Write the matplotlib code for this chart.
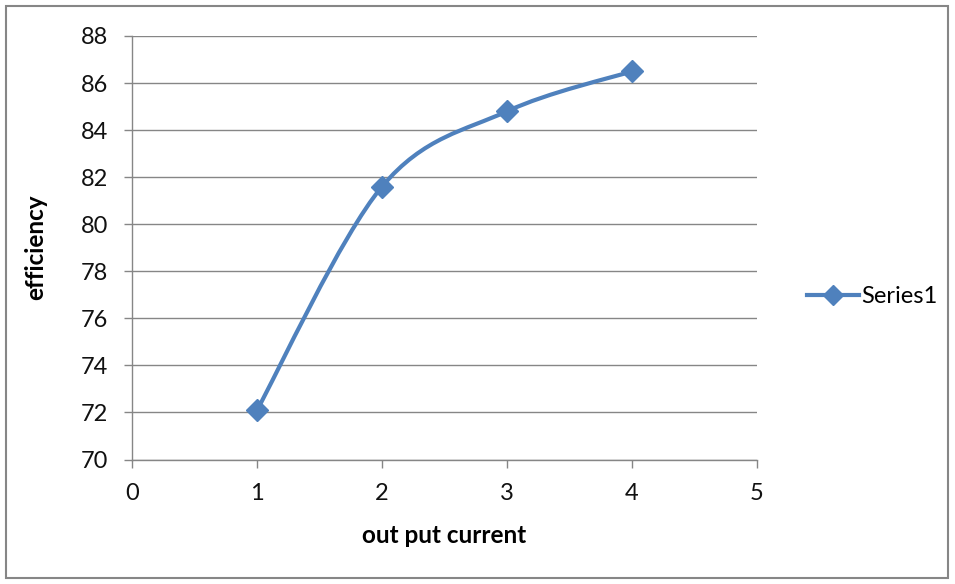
import numpy as np
import matplotlib
matplotlib.use("Agg")
import matplotlib.pyplot as plt
from matplotlib.path import Path
from matplotlib.patches import PathPatch, Rectangle
from matplotlib.lines import Line2D

# dados
corrente = [1, 2, 3, 4]
eficiencia = [72.1, 81.6, 84.8, 86.5]
serie = "Series1"

azul = "#4F81BD"
cinza = "#868686"
plt.rcParams["font.family"] = ["Lato", "DejaVu Sans"]

W, H = 955, 584
fig = plt.figure(figsize=(W / 100, H / 100), dpi=100)

# moldura externa
fig.patches.append(Rectangle((6 / W, 6 / H), 942 / W, 572 / H, transform=fig.transFigure,
                             fill=False, edgecolor=cinza, linewidth=1.5))

ax = fig.add_axes([132 / W, (H - 459.5) / H, (757 - 132) / W, (459.5 - 36) / H])
ax.set_xlim(0, 5)
ax.set_ylim(70, 88)
ax.set_xticks(range(0, 6))
ax.set_yticks(range(70, 90, 2))
ax.grid(axis="y", color=cinza, linewidth=1)
ax.set_axisbelow(True)
for lado in ["top", "right"]:
    ax.spines[lado].set_visible(False)
for lado in ["left", "bottom"]:
    ax.spines[lado].set_color(cinza)
    ax.spines[lado].set_linewidth(1)
ax.tick_params(colors=cinza, labelcolor="#111111", labelsize=17, length=6, width=1)
ax.tick_params(axis="x", pad=11)
ax.tick_params(axis="y", pad=11)

# curva suavizada (Catmull-Rom em segmentos Bezier)
x = np.array(corrente, dtype=float)
y = np.array(eficiencia, dtype=float)
pts = np.column_stack([x, y])
ext = np.vstack([pts[0], pts, pts[-1]])
verts = [pts[0]]
codes = [Path.MOVETO]
for i in range(1, len(ext) - 2):
    p0, p1, p2, p3 = ext[i - 1], ext[i], ext[i + 1], ext[i + 2]
    c1 = p1 + (p2 - p0) / 6
    c2 = p2 - (p3 - p1) / 6
    verts += [c1, c2, p2]
    codes += [Path.CURVE4] * 3
ax.add_patch(PathPatch(Path(verts, codes), fill=False, edgecolor=azul,
                       linewidth=3, capstyle="round", zorder=3))
ax.plot(x, y, linestyle="none", marker="D", markersize=11, color=azul, zorder=4,
        clip_on=False)

ax.set_xlabel("out put current", fontsize=17.5, fontweight="bold", labelpad=14)
ax.set_ylabel("efficiency", fontsize=17.5, fontweight="bold", labelpad=24)

handle = Line2D([], [], color=azul, linewidth=3, marker="D", markersize=10)
ax.legend([handle], [serie], loc="center left", bbox_to_anchor=(1.065, 0.385),
          frameon=False, fontsize=17, handlelength=2.2, handletextpad=0.1,
          borderaxespad=0)

fig.savefig("out.png", dpi=100)
